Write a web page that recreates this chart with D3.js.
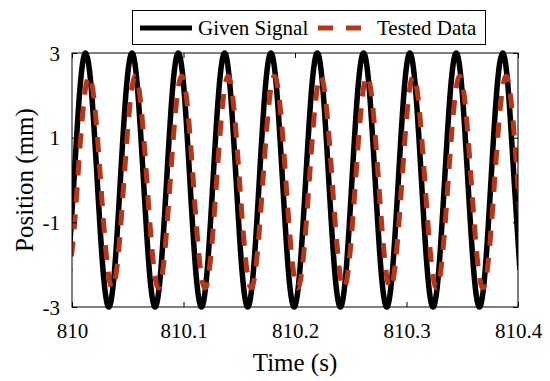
<!DOCTYPE html>
<html>
<head>
<meta charset="utf-8">
<script src="https://cdn.jsdelivr.net/npm/d3@7"></script>
<style>
  html, body { margin: 0; padding: 0; background: #fff; }
  svg { display: block; }
  svg text { font-family: "Liberation Serif", "Times New Roman", Times, "Nimbus Roman", "DejaVu Serif", serif !important; fill: #000; }
</style>
</head>
<body>
<svg id="chart" width="550" height="381"></svg>
<script>
// ---- data ----
const times = [
  809.9966, 810.0018, 810.0070,
  810.0122, 810.0174, 810.0226, 810.0278, 810.0330, 810.0382, 810.0434, 810.0486,
  810.0538, 810.0589, 810.0641, 810.0693, 810.0745, 810.0797, 810.0849, 810.0901,
  810.0953, 810.1005, 810.1057, 810.1109, 810.1161, 810.1213, 810.1265, 810.1317,
  810.1369, 810.1420, 810.1472, 810.1524, 810.1576, 810.1628, 810.1680, 810.1732,
  810.1784, 810.1836, 810.1888, 810.1940, 810.1992, 810.2044, 810.2096, 810.2148,
  810.2200, 810.2251, 810.2303, 810.2355, 810.2407, 810.2459, 810.2511, 810.2563,
  810.2615, 810.2667, 810.2719, 810.2771, 810.2823, 810.2875, 810.2927, 810.2979,
  810.3030, 810.3082, 810.3134, 810.3186, 810.3238, 810.3290, 810.3342, 810.3394,
  810.3446, 810.3498, 810.3550, 810.3602, 810.3654, 810.3706, 810.3758, 810.3810,
  810.3862, 810.3913, 810.3965, 810.4017
];
const givenSignal = [
  -2.12, 0, 2.12,
  3, 2.12, 0, -2.12, -3, -2.12, 0, 2.12,
  3, 2.12, 0, -2.12, -3, -2.12, 0, 2.12,
  3, 2.12, 0, -2.12, -3, -2.12, 0, 2.12,
  3, 2.12, 0, -2.12, -3, -2.12, 0, 2.12,
  3, 2.12, 0, -2.12, -3, -2.12, 0, 2.12,
  3, 2.12, 0, -2.12, -3, -2.12, 0, 2.12,
  3, 2.12, 0, -2.12, -3, -2.12, 0, 2.12,
  3, 2.12, 0, -2.12, -3, -2.12, 0, 2.12,
  3, 2.12, 0, -2.12, -3, -2.12, 0, 2.12,
  3, 2.12, 0, -2.12
];
const testedData = [
  -2.43, -1.19, 0.72,
  2.18, 2.33, 1.09, -0.82, -2.28, -2.43, -1.19, 0.72,
  2.18, 2.33, 1.09, -0.82, -2.28, -2.43, -1.19, 0.72,
  2.18, 2.33, 1.09, -0.82, -2.28, -2.43, -1.19, 0.72,
  2.18, 2.33, 1.09, -0.82, -2.28, -2.43, -1.19, 0.72,
  2.18, 2.33, 1.09, -0.82, -2.28, -2.43, -1.19, 0.72,
  2.18, 2.33, 1.09, -0.82, -2.28, -2.43, -1.19, 0.72,
  2.18, 2.33, 1.09, -0.82, -2.28, -2.43, -1.19, 0.72,
  2.18, 2.33, 1.09, -0.82, -2.28, -2.43, -1.19, 0.72,
  2.18, 2.33, 1.09, -0.82, -2.28, -2.43, -1.19, 0.72,
  2.18, 2.33, 1.09, -0.82
];
const xTicks = [810, 810.1, 810.2, 810.3, 810.4];
const xTickLabels = ["810", "810.1", "810.2", "810.3", "810.4"];
const yTicks = [-3, -1, 1, 3];
const yTickLabels = ["-3", "-1", "1", "3"];
const seriesNames = ["Given Signal", "Tested Data"];

// ---- layout ----
const L = 72, R = 518, T = 53, B = 307;
const svg = d3.select("#chart");
const x = d3.scaleLinear().domain([810, 810.4]).range([L, R]);
const y = d3.scaleLinear().domain([-3, 3]).range([B, T]);

svg.append("defs").append("clipPath").attr("id", "clip")
  .append("rect").attr("x", L).attr("y", T - 5).attr("width", R - L).attr("height", B - T + 10);

const blackPts = times.map((t, i) => [t, givenSignal[i]]);
const redPts = times.map((t, i) => [t, testedData[i]]);
const line = d3.line().x(d => x(d[0])).y(d => y(d[1])).curve(d3.curveNatural);

const plot = svg.append("g").attr("clip-path", "url(#clip)");
plot.append("path").attr("d", line(blackPts))
  .attr("fill", "none").attr("stroke", "#000").attr("stroke-width", 5.5);
plot.append("path").attr("d", line(redPts))
  .attr("fill", "none").attr("stroke", "#d02a1c").attr("stroke-width", 5)
  .attr("stroke-dasharray", "15,12");
plot.append("path").attr("d", line(redPts))
  .attr("fill", "none").attr("stroke", "#8e4a18").attr("stroke-width", 1.8)
  .attr("stroke-dasharray", "15,12");

// frame
svg.append("rect").attr("x", L).attr("y", T).attr("width", R - L).attr("height", B - T)
  .attr("fill", "none").attr("stroke", "#000").attr("stroke-width", 1);

// ticks (inward, both sides)
const tickLen = 5;
const xb = d3.axisBottom(x).tickValues(xTicks).tickSizeInner(-tickLen).tickSizeOuter(0).tickFormat((d, i) => xTickLabels[i]);
const gxb = svg.append("g").attr("transform", `translate(0,${B})`).call(xb);
gxb.attr("font-family", null);
gxb.select(".domain").remove();
gxb.selectAll("text").attr("font-size", 21).attr("dy", null).attr("y", 31);
const xt = d3.axisTop(x).tickValues(xTicks).tickSizeInner(-tickLen).tickSizeOuter(0).tickFormat("");
const gxt = svg.append("g").attr("transform", `translate(0,${T})`).call(xt);
gxt.select(".domain").remove();

const yl = d3.axisLeft(y).tickValues(yTicks).tickSizeInner(-tickLen).tickSizeOuter(0).tickFormat((d, i) => yTickLabels[i]);
const gyl = svg.append("g").attr("transform", `translate(${L},0)`).call(yl);
gyl.attr("font-family", null);
gyl.select(".domain").remove();
gyl.selectAll("text").attr("font-size", 21).attr("x", -12).attr("dy", "0.34em");
const yr = d3.axisRight(y).tickValues(yTicks).tickSizeInner(-tickLen).tickSizeOuter(0).tickFormat("");
const gyr = svg.append("g").attr("transform", `translate(${R},0)`).call(yr);
gyr.select(".domain").remove();
svg.selectAll(".tick line").attr("stroke", "#000").attr("stroke-width", 1);

// axis labels
svg.append("text").attr("x", (L + R) / 2).attr("y", 371).attr("text-anchor", "middle")
  .attr("font-size", 25).text("Time (s)");
svg.append("text").attr("transform", `translate(33,${(T + B) / 2}) rotate(-90)`)
  .attr("text-anchor", "middle").attr("font-size", 25).text("Position (mm)");

// legend
const lg = svg.append("g");
lg.append("rect").attr("x", 132.5).attr("y", 10.5).attr("width", 353).attr("height", 34)
  .attr("fill", "#fff").attr("stroke", "#000").attr("stroke-width", 1);
lg.append("line").attr("x1", 140).attr("x2", 192).attr("y1", 28).attr("y2", 28)
  .attr("stroke", "#000").attr("stroke-width", 5);
lg.append("text").attr("x", 198).attr("y", 35).attr("font-size", 21).text(seriesNames[0]);
lg.append("line").attr("x1", 318).attr("x2", 363).attr("y1", 28).attr("y2", 28)
  .attr("stroke", "#d02a1c").attr("stroke-width", 5).attr("stroke-dasharray", "15,13");
lg.append("line").attr("x1", 318).attr("x2", 363).attr("y1", 28).attr("y2", 28)
  .attr("stroke", "#8e4a18").attr("stroke-width", 1.8).attr("stroke-dasharray", "15,13");
lg.append("text").attr("x", 377).attr("y", 35).attr("font-size", 21).text(seriesNames[1]);
</script>
</body>
</html>
